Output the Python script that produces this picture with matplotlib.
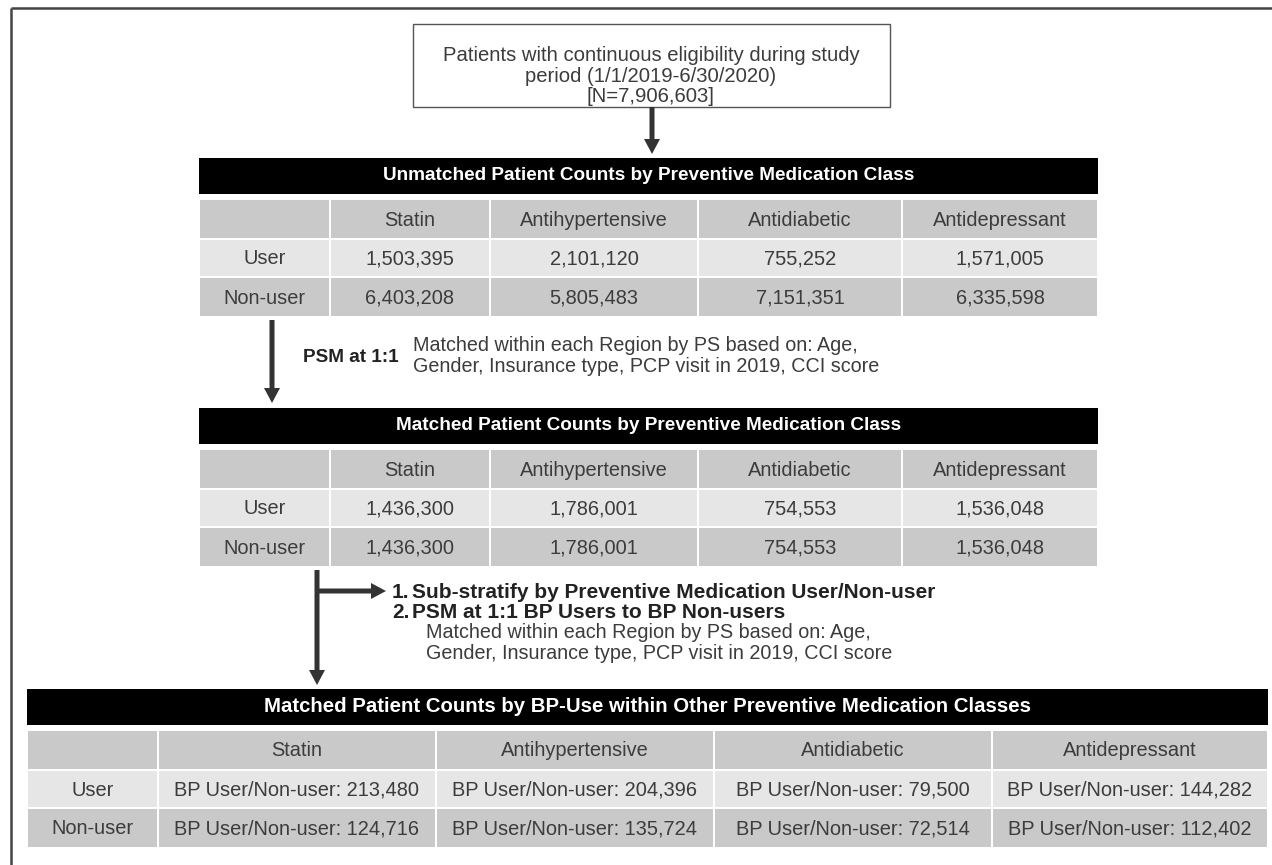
import matplotlib
matplotlib.use('Agg')
import matplotlib.pyplot as plt
from matplotlib.patches import Rectangle

plt.rcParams['font.family'] = ['Liberation Sans', 'DejaVu Sans']

# data
classes = ['Statin', 'Antihypertensive', 'Antidiabetic', 'Antidepressant']
row_names = ['User', 'Non-user']
total_n = 7906603
unmatched_user = [1503395, 2101120, 755252, 1571005]
unmatched_non = [6403208, 5805483, 7151351, 6335598]
matched_user = [1436300, 1786001, 754553, 1536048]
matched_non = [1436300, 1786001, 754553, 1536048]
bp_user = [213480, 204396, 79500, 144282]
bp_non = [124716, 135724, 72514, 112402]

W, H = 1272, 865
fig = plt.figure(figsize=(W / 100, H / 100), dpi=100)
ax = fig.add_axes([0, 0, 1, 1])
ax.set_xlim(0, W)
ax.set_ylim(H, 0)
ax.axis('off')

TXT = '#3c3c3c'
BOLD = '#222222'
DARK = '#c9c9c9'
LIGHT = '#e6e6e6'
ARROW = '#333333'

# outer frame (only top and left visible)
ax.plot([11, W], [8, 8], color='#444444', lw=1.8, solid_capstyle='butt')
ax.plot([11, 11], [8, H], color='#444444', lw=1.8, solid_capstyle='butt')


def arrow(x0, y0, x1, y1):
    ax.arrow(x0, y0, x1 - x0, y1 - y0, width=5, head_width=16, head_length=15,
             length_includes_head=True, color=ARROW, lw=0)


def draw_table(edges, y0, title, values, fmt, title_size):
    # title bar
    ax.add_patch(Rectangle((edges[0], y0), edges[-1] - edges[0], 36, color='black', lw=0))
    ax.text((edges[0] + edges[-1]) / 2, y0 + 18, title, color='white', fontsize=title_size,
            fontweight='bold', ha='center', va='center')
    rows_y = [(y0 + 42, 38), (y0 + 82, 36), (y0 + 120, 38)]
    fills = [DARK, LIGHT, DARK]
    for r, (ry, rh) in enumerate(rows_y):
        for c in range(len(edges) - 1):
            ax.add_patch(Rectangle((edges[c] + 1, ry), edges[c + 1] - edges[c] - 2, rh,
                                   color=fills[r], lw=0))
            cx = (edges[c] + edges[c + 1]) / 2
            if r == 0:
                label = '' if c == 0 else classes[c - 1]
            else:
                label = row_names[r - 1] if c == 0 else fmt(values[r - 1][c - 1])
            ax.text(cx, ry + rh / 2 + 1, label, color=TXT, fontsize=14.4,
                    ha='center', va='center')


# top box
ax.add_patch(Rectangle((413, 24), 477, 83, fill=False, ec='#555555', lw=1))
ax.text(651, 76, 'Patients with continuous eligibility during study\n'
        'period (1/1/2019-6/30/2020)\n[N={:,}]'.format(total_n),
        color=TXT, fontsize=14.6, ha='center', va='center', linespacing=1.08)
arrow(652, 107, 652, 154)

edges12 = [199, 330, 490, 698, 902, 1098]
edges3 = [27, 158, 436, 714, 992, 1268]

draw_table(edges12, 158, 'Unmatched Patient Counts by Preventive Medication Class',
           [unmatched_user, unmatched_non], lambda v: f'{v:,}', 13.7)

# step 2
arrow(272, 320, 272, 403)
ax.text(303, 357, 'PSM at 1:1', color=BOLD, fontsize=13.6, fontweight='bold',
        ha='left', va='center')
ax.text(413, 356, 'Matched within each Region by PS based on: Age,\n'
        'Gender, Insurance type, PCP visit in 2019, CCI score',
        color=TXT, fontsize=14.2, ha='left', va='center', linespacing=1.12)

draw_table(edges12, 408, 'Matched Patient Counts by Preventive Medication Class',
           [matched_user, matched_non], lambda v: f'{v:,}', 13.7)

# step 3
arrow(317, 570, 317, 685)
arrow(317, 591, 386, 591)
ax.text(392, 592, '1.', color=BOLD, fontsize=15, fontweight='bold', ha='left', va='center')
ax.text(412, 592, 'Sub-stratify by Preventive Medication User/Non-user', color=BOLD,
        fontsize=15, fontweight='bold', ha='left', va='center')
ax.text(392, 612, '2.', color=BOLD, fontsize=15, fontweight='bold', ha='left', va='center')
ax.text(412, 612, 'PSM at 1:1 BP Users to BP Non-users', color=BOLD,
        fontsize=15, fontweight='bold', ha='left', va='center')
ax.text(426, 643, 'Matched within each Region by PS based on: Age,\n'
        'Gender, Insurance type, PCP visit in 2019, CCI score',
        color=TXT, fontsize=14.2, ha='left', va='center', linespacing=1.12)

draw_table(edges3, 689, 'Matched Patient Counts by BP-Use within Other Preventive Medication Classes',
           [bp_user, bp_non], lambda v: f'BP User/Non-user: {v:,}', 14.7)

fig.savefig('out.png', dpi=100)
